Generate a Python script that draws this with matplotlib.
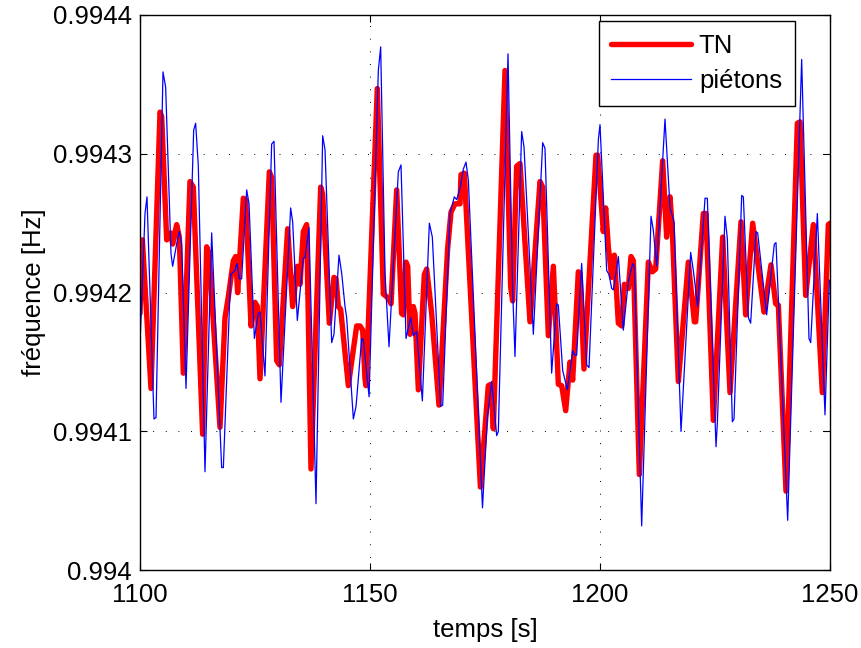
import matplotlib

matplotlib.use("Agg")
import matplotlib.pyplot as plt

plt.rcParams["font.family"] = ["Liberation Sans", "DejaVu Sans"]

# values (time in s, frequency in Hz)
t_tn = [
    1100.0, 1100.51, 1102.39, 1104.35, 1104.71, 1105.80, 1106.67, 1107.10, 1107.97, 1108.55,
    1109.42, 1110.87, 1111.59, 1113.62, 1114.49, 1115.0, 1117.39, 1118.48, 1119.20, 1120.29,
    1120.80, 1121.23, 1122.46, 1122.97, 1124.13, 1125.0, 1125.51, 1126.09, 1128.12, 1128.62,
    1129.71, 1130.29, 1132.10, 1133.19, 1134.20, 1134.78, 1135.51, 1136.23, 1137.17, 1139.28,
    1139.71, 1141.16, 1142.17, 1142.61, 1143.12, 1143.62, 1145.29, 1147.10, 1147.83, 1148.41,
    1148.91, 1149.13, 1151.59, 1152.90, 1153.99, 1154.57, 1155.80, 1156.88, 1157.25, 1157.83,
    1158.19, 1158.70, 1159.42, 1159.78, 1160.51, 1161.81, 1162.32, 1163.41, 1165.0, 1166.88,
    1167.61, 1168.48, 1169.57, 1169.78, 1170.51, 1174.0, 1175.72, 1176.30, 1176.81, 1179.35,
    1180.58, 1181.01, 1181.88, 1182.61, 1184.78, 1186.96, 1187.54, 1188.77, 1189.86, 1190.94,
    1191.67, 1192.54, 1193.48, 1194.06, 1195.29, 1195.65, 1196.52, 1199.13, 1199.49, 1200.72,
    1201.23, 1201.81, 1202.54, 1203.12, 1203.99, 1204.71, 1205.29, 1206.16, 1206.74, 1207.25,
    1208.55, 1210.51, 1211.38, 1212.10, 1213.62, 1214.49, 1215.22, 1215.72, 1217.03, 1219.20,
    1220.51, 1220.80, 1222.46, 1223.04, 1224.64, 1226.67, 1228.26, 1230.65, 1231.67, 1233.19,
    1235.65, 1237.17, 1238.19, 1238.77, 1240.43, 1242.90, 1243.48, 1244.71, 1246.38, 1248.33,
    1249.64, 1250.0,
]
f_tn = [
    0.994185, 0.994238, 0.994131, 0.994330, 0.994327, 0.994238, 0.994243, 0.994235, 0.994249, 0.994240,
    0.994142, 0.994280, 0.994276, 0.994098, 0.994233, 0.994228, 0.994103, 0.994182, 0.994197, 0.994223,
    0.994226, 0.994200, 0.994268, 0.994267, 0.994176, 0.994193, 0.994190, 0.994138, 0.994287, 0.994283,
    0.994151, 0.994148, 0.994246, 0.994190, 0.994219, 0.994206, 0.994244, 0.994249, 0.994073, 0.994276,
    0.994271, 0.994178, 0.994211, 0.994210, 0.994190, 0.994188, 0.994133, 0.994176, 0.994176, 0.994173,
    0.994138, 0.994133, 0.994347, 0.994199, 0.994196, 0.994192, 0.994274, 0.994185, 0.994184, 0.994222,
    0.994219, 0.994170, 0.994190, 0.994185, 0.994130, 0.994213, 0.994217, 0.994185, 0.994119, 0.994232,
    0.994258, 0.994264, 0.994264, 0.994285, 0.994286, 0.994060, 0.994133, 0.994134, 0.994102, 0.994360,
    0.994204, 0.994194, 0.994291, 0.994293, 0.994179, 0.994280, 0.994276, 0.994169, 0.994219, 0.994134,
    0.994133, 0.994115, 0.994150, 0.994137, 0.994215, 0.994214, 0.994145, 0.994299, 0.994299, 0.994244,
    0.994261, 0.994233, 0.994211, 0.994227, 0.994178, 0.994176, 0.994206, 0.994203, 0.994226, 0.994223,
    0.994069, 0.994222, 0.994215, 0.994217, 0.994295, 0.994240, 0.994269, 0.994245, 0.994136, 0.994222,
    0.994179, 0.994179, 0.994257, 0.994257, 0.994108, 0.994240, 0.994128, 0.994251, 0.994184, 0.994250,
    0.994186, 0.994220, 0.994192, 0.994191, 0.994057, 0.994322, 0.994323, 0.994198, 0.994249, 0.994128,
    0.994249, 0.994250,
]

t_piet = [
    1100.0, 1101.09, 1101.52, 1103.04, 1103.48, 1105.0, 1105.58, 1106.74, 1107.10, 1107.97,
    1108.55, 1109.06, 1110.0, 1111.67, 1112.10, 1112.68, 1114.13, 1115.58, 1117.75, 1118.12,
    1119.71, 1120.65, 1121.09, 1121.59, 1122.10, 1123.19, 1123.70, 1124.86, 1125.72, 1126.09,
    1127.17, 1128.62, 1129.13, 1130.65, 1132.75, 1133.19, 1134.20, 1135.51, 1135.87, 1136.74,
    1138.26, 1139.71, 1140.22, 1141.67, 1142.17, 1143.26, 1143.84, 1144.57, 1144.93, 1146.38,
    1146.96, 1148.19, 1148.55, 1149.8, 1151.81, 1152.32, 1153.26, 1154.13, 1156.16, 1156.74,
    1157.83, 1158.84, 1159.42, 1160.14, 1161.38, 1162.90, 1163.55, 1165.36, 1165.80, 1167.39,
    1168.33, 1168.84, 1169.57, 1170.29, 1170.87, 1171.38, 1174.45, 1175.51, 1176.45, 1177.54,
    1177.90, 1180.0, 1181.01, 1181.52, 1182.97, 1183.48, 1185.51, 1187.54, 1188.04, 1189.49,
    1190.58, 1190.94, 1191.88, 1192.90, 1194.06, 1194.57, 1194.93, 1196.01, 1197.10, 1197.61,
    1199.64, 1200.0, 1201.45, 1201.96, 1202.54, 1202.90, 1203.99, 1205.07, 1206.16, 1207.10,
    1207.46, 1209.06, 1211.09, 1211.59, 1212.32, 1214.13, 1215.22, 1216.09, 1217.61, 1219.71,
    1220.29, 1221.23, 1222.83, 1223.33, 1225.22, 1225.51, 1227.17, 1227.68, 1228.77, 1229.13,
    1230.80, 1231.16, 1232.25, 1232.75, 1233.91, 1234.28, 1236.23, 1237.90, 1238.26, 1240.80,
    1243.84, 1245.43, 1245.80, 1247.25, 1248.91, 1249.86,
]
f_piet = [
    0.994163, 0.994257, 0.994269, 0.994109, 0.994110, 0.994359, 0.994348, 0.994228, 0.994219, 0.994235,
    0.994244, 0.994235, 0.994131, 0.994317, 0.994322, 0.994291, 0.994071, 0.994243, 0.994074, 0.994074,
    0.994213, 0.994216, 0.994221, 0.994210, 0.994210, 0.994274, 0.994264, 0.994167, 0.994185, 0.994186,
    0.994140, 0.994307, 0.994309, 0.994121, 0.994261, 0.994251, 0.994180, 0.994225, 0.994225, 0.994247,
    0.994048, 0.994313, 0.994303, 0.994164, 0.994170, 0.994227, 0.994214, 0.994190, 0.994182, 0.994109,
    0.994118, 0.994167, 0.994166, 0.994125, 0.994360, 0.994377, 0.994214, 0.994161, 0.994287, 0.994292,
    0.994167, 0.994182, 0.994169, 0.994172, 0.994122, 0.994250, 0.994240, 0.994118, 0.994119, 0.994257,
    0.994269, 0.994267, 0.994275, 0.994289, 0.994294, 0.994281, 0.994045, 0.994110, 0.994136, 0.994097,
    0.994100, 0.994372, 0.994202, 0.994154, 0.994316, 0.994305, 0.994170, 0.994308, 0.994304, 0.994142,
    0.994192, 0.994191, 0.994144, 0.994130, 0.994158, 0.994155, 0.994155, 0.994221, 0.994148, 0.994146,
    0.994310, 0.994321, 0.994216, 0.994213, 0.994203, 0.994202, 0.994226, 0.994173, 0.994208, 0.994221,
    0.994219, 0.994032, 0.994255, 0.994245, 0.994219, 0.994325, 0.994261, 0.994251, 0.994100, 0.994229,
    0.994216, 0.994190, 0.994268, 0.994268, 0.994089, 0.994106, 0.994255, 0.994239, 0.994107, 0.994109,
    0.994270, 0.994269, 0.994182, 0.994178, 0.994244, 0.994243, 0.994184, 0.994235, 0.994236, 0.994036,
    0.994368, 0.994167, 0.994164, 0.994257, 0.994112, 0.994209,
]

x_ticks = [1100, 1150, 1200, 1250]
y_ticks = [0.9940, 0.9941, 0.9942, 0.9943, 0.9944]
y_tick_labels = ["0.994", "0.9941", "0.9942", "0.9943", "0.9944"]

fig = plt.figure(figsize=(8.61, 6.48), dpi=100)
ax = fig.add_axes([0.1626, 0.1199, 0.8014, 0.857])

ax.plot(t_tn, f_tn, color="#ff0000", lw=3.9, label="TN",
        solid_joinstyle="round", solid_capstyle="round")
ax.plot(t_piet, f_piet, color="#0000ff", lw=0.9, label="piétons")

ax.set_xlim(1100, 1250)
ax.set_ylim(0.9940, 0.9944)
ax.set_xticks(x_ticks)
ax.set_xticklabels([str(v) for v in x_ticks])
ax.set_yticks(y_ticks)
ax.set_yticklabels(y_tick_labels)

ax.grid(True, color="black", linestyle=(0, (1, 12)), linewidth=0.7)
ax.tick_params(direction="in", length=5, width=0.8, top=True, right=True,
               labelsize=18.5)
ax.tick_params(axis="x", pad=9)
ax.tick_params(axis="y", pad=6)
for sp in ax.spines.values():
    sp.set_linewidth(1.0)

ax.set_xlabel("temps [s]", fontsize=18.5, labelpad=8)
ax.set_ylabel("fréquence [Hz]", fontsize=18.5, labelpad=5)

leg = ax.legend(loc="upper right", bbox_to_anchor=(0.949, 0.989), fontsize=18.5,
                handlelength=3.1, handletextpad=0.3, labelspacing=0.45,
                borderpad=0.5, borderaxespad=0.0, fancybox=False, framealpha=1)
leg.get_frame().set_edgecolor("black")
leg.get_frame().set_linewidth(1.0)

fig.savefig("out.png", dpi=100)
